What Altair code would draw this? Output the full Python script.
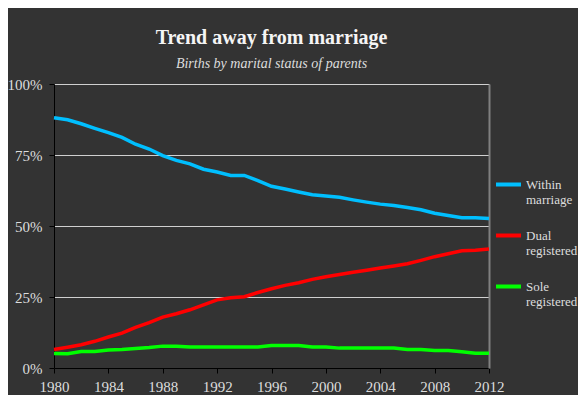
import altair as alt
import pandas as pd

years = list(range(1980, 2013))
within_marriage = [88.1, 87.4, 86.0, 84.4, 82.9, 81.2, 78.8, 77.1, 74.8, 73.1, 71.9,
                   70.0, 69.0, 67.8, 67.8, 66.0, 64.0, 63.0, 62.0, 61.0, 60.6, 60.1,
                   59.2, 58.4, 57.7, 57.2, 56.5, 55.7, 54.5, 53.7, 52.9, 52.9, 52.6]
dual_registered = [6.5, 7.3, 8.2, 9.4, 10.9, 12.3, 14.3, 16.0, 17.9, 19.1, 20.5,
                   22.2, 24.0, 24.7, 25.1, 26.6, 27.9, 29.1, 30.0, 31.2, 32.1, 32.9,
                   33.7, 34.4, 35.2, 35.9, 36.7, 37.9, 39.2, 40.2, 41.3, 41.5, 41.9]
sole_registered = [5.1, 5.0, 5.8, 5.8, 6.3, 6.5, 6.9, 7.2, 7.7, 7.7, 7.4,
                   7.4, 7.4, 7.4, 7.4, 7.4, 7.9, 7.9, 7.9, 7.4, 7.4, 7.0,
                   7.0, 7.0, 7.0, 7.0, 6.5, 6.5, 6.2, 6.2, 5.7, 5.2, 5.2]
series_names = ["Within|marriage", "Dual|registered", "Sole|registered"]
series_colors = ["#00bfff", "#ff0000", "#00ff00"]

rows = []
for name, vals in zip(series_names, [within_marriage, dual_registered, sole_registered]):
    for y, v in zip(years, vals):
        rows.append({"year": y, "share": v / 100.0, "series": name})
df = pd.DataFrame(rows)

FONT = "Liberation Serif"
TXT = "#dddddd"

lines = alt.Chart(df).mark_line(strokeWidth=3.5).encode(
    x=alt.X("year:Q", scale=alt.Scale(domain=[1980, 2012], nice=False, zero=False),
            axis=alt.Axis(values=years, labelExpr="datum.value % 4 == 0 ? datum.value : ''",
                          format="d", grid=False, title=None, domainColor="#000000",
                          tickColor="#000000", tickSize=5, labelPadding=6,
                          labelFlush=False, labelOverlap=False)),
    y=alt.Y("share:Q", scale=alt.Scale(domain=[0, 1], nice=False),
            axis=alt.Axis(values=[0, 0.25, 0.5, 0.75, 1.0], format=".0%", title=None,
                          grid=True, gridColor="#d0d0d0", gridWidth=1,
                          domainColor="#000000", tickColor="#000000", tickSize=5,
                          labelPadding=7)),
    color=alt.Color("series:N", sort=series_names,
                    scale=alt.Scale(domain=series_names, range=series_colors),
                    legend=alt.Legend(title=None, orient="none", legendX=440, legendY=86,
                                      symbolType="stroke", symbolSize=625,
                                      symbolStrokeWidth=4, labelOffset=3,
                                      labelExpr="split(datum.label, '|')",
                                      labelBaseline="middle", rowPadding=14,
                                      padding=0, labelLimit=200)),
)

border = alt.Chart(df).mark_line(opacity=0).encode(
    x="year:Q",
    y=alt.Y("share:Q", scale=alt.Scale(domain=[0, 1], nice=False),
            axis=alt.Axis(orient="right", labels=False, ticks=False, grid=False,
                          title=None, domainColor="#808080", domainWidth=2)),
)

chart = alt.layer(lines, border).resolve_scale(y="shared").resolve_axis(y="independent").properties(
    width=435, height=284,
    autosize=alt.AutoSizeParams(type="none"),
    padding={"left": 46, "top": 76, "right": 89, "bottom": 27},
    background="#333333",
    title=alt.Title(text="Trend away from marriage", subtitle="Births by marital status of parents",
                    anchor="middle", frame="group", font=FONT, fontSize=20, fontWeight="bold",
                    color="#f5f5f5", subtitleFont=FONT, subtitleFontSize=14,
                    subtitleFontStyle="italic", subtitleColor=TXT, subtitlePadding=9,
                    offset=6),
).configure_view(stroke=None).configure_axis(
    labelFont=FONT, labelFontSize=15, labelColor=TXT
).configure_legend(
    labelFont=FONT, labelFontSize=13, labelColor=TXT
)

chart.save("out.html", embed_options={"renderer": "svg", "actions": False})
